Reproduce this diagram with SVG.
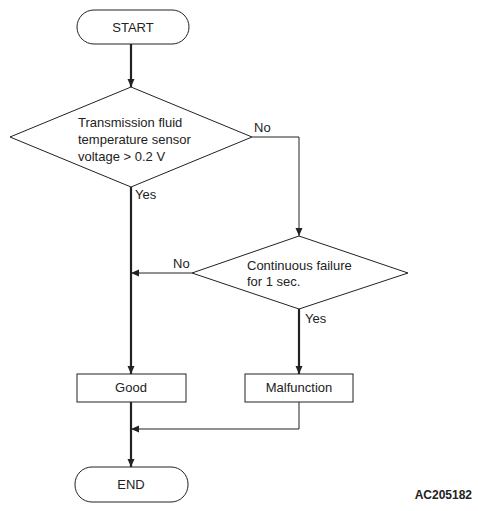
<svg xmlns="http://www.w3.org/2000/svg" width="478" height="511" viewBox="0 0 478 511">
<style>
.s{fill:#fff;stroke:#222;stroke-width:1}
.t{font-family:"Liberation Sans",Arial,sans-serif;font-size:13px;fill:#222}
.c{fill:none;stroke:#222}
.thin{stroke-width:1}
.thick{stroke-width:2.2}
</style>
<defs>
<marker id="a" markerWidth="8" markerHeight="8" refX="8" refY="4" orient="auto" markerUnits="userSpaceOnUse">
<path d="M0,0.5 L8,4 L0,7.5 Z" fill="#222"/>
</marker>
</defs>
<rect width="478" height="511" fill="#fff"/>
<g id="connectors">
<path class="c thick" d="M131,44 V87" marker-end="url(#a)"/>
<path class="c thin" d="M252,137 H299 V236" marker-end="url(#a)"/>
<path class="c thin" d="M192,273 H131" marker-end="url(#a)"/>
<path class="c thick" d="M131,187 V374" marker-end="url(#a)"/>
<path class="c thick" d="M299,309 V374" marker-end="url(#a)"/>
<path class="c thin" d="M299,402 V429 H131" marker-end="url(#a)"/>
<path class="c thick" d="M131,402 V467" marker-end="url(#a)"/>
<text class="t" x="254" y="132">No</text>
<text class="t" x="135" y="199">Yes</text>
<text class="t" x="173" y="268">No</text>
<text class="t" x="305" y="323">Yes</text>
</g>
<g id="start">
<rect class="s" x="77" y="10" width="112" height="34" rx="17" ry="17"/>
<text class="t" x="133" y="32" text-anchor="middle">START</text>
</g>
<g id="decision1">
<path class="s" d="M131,87 L252,137 L131,187 L10,137 Z"/>
<text class="t" x="78" y="127">Transmission fluid</text>
<text class="t" x="78" y="144">temperature sensor</text>
<text class="t" x="78" y="161">voltage &gt; 0.2 V</text>
</g>
<g id="decision2">
<path class="s" d="M299,236 L408,273 L299,309 L192,273 Z"/>
<text class="t" x="247" y="270">Continuous failure</text>
<text class="t" x="247" y="286">for 1 sec.</text>
</g>
<g id="good">
<rect class="s" x="77" y="374" width="109" height="28"/>
<text class="t" x="131" y="392" text-anchor="middle">Good</text>
</g>
<g id="malfunction">
<rect class="s" x="245" y="374" width="108" height="28"/>
<text class="t" x="299" y="392" text-anchor="middle">Malfunction</text>
</g>
<g id="end">
<rect class="s" x="75" y="467" width="113" height="35" rx="17" ry="17"/>
<text class="t" x="131" y="489" text-anchor="middle">END</text>
</g>
<text x="472" y="499" text-anchor="end" style="font-family:'Liberation Sans',Arial,sans-serif;font-size:12px;font-weight:bold;fill:#222">AC205182</text>
</svg>
